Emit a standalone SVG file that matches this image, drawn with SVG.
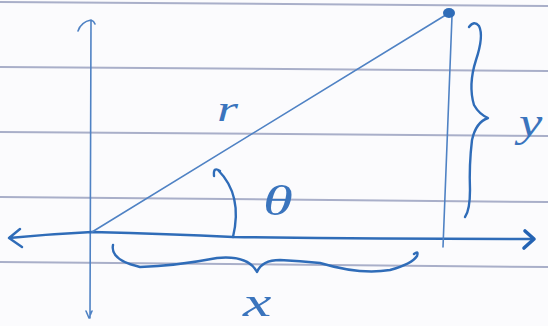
<svg xmlns="http://www.w3.org/2000/svg" width="548" height="326" viewBox="0 0 548 326">
<style>
.paper{stroke:#a9afc9;stroke-width:2;fill:none}
.thin{stroke:#4f82c4;stroke-width:1.6;fill:none;stroke-linecap:round;stroke-linejoin:round}
.ink{stroke:#2f6cb8;stroke-width:2.4;fill:none;stroke-linecap:round;stroke-linejoin:round}
.bold{stroke:#2463b3;stroke-width:3.6;fill:none;stroke-linecap:round;stroke-linejoin:round}
.lbl{font-family:"Liberation Serif",serif;font-style:italic;fill:#3a74bd}
</style>
<rect width="548" height="326" fill="#fbfbfd"/>
<g id="paper-lines">
<line class="paper" x1="0" y1="2" x2="548" y2="6"/>
<line class="paper" x1="0" y1="67" x2="548" y2="71"/>
<line class="paper" x1="0" y1="132" x2="548" y2="136"/>
<line class="paper" x1="0" y1="197" x2="548" y2="202"/>
<line class="paper" x1="0" y1="262" x2="548" y2="267"/>
</g>
<g id="connectors">
<path id="y-axis" class="thin" d="M91,21 L90,318 M78,31 Q81,22 91,20 Q94,21 95,24 M86,311 L89,318 L92,311"/>
<path id="x-axis" class="ink" d="M9,238 Q50,234 92,232 Q170,234 233,237 Q380,239 533,239 M20,229 L9,238 L22,247"/>
<path id="x-arrowhead" class="bold" d="M525,231 L534,239 L524,248"/>
<path id="hypotenuse" class="thin" d="M92,232 L449,13"/>
<path id="vertical-y" class="thin" d="M452,16 L443,247"/>
<path id="angle-arc" class="ink" d="M233,237 Q243,195 218,170 M214,176 Q213,166 220,171"/>
<path id="brace-y" class="ink" d="M469,27 Q474,20 479,26 Q484,36 476,60 Q468,85 474,105 Q479,114 488,118 Q476,122 472,140 Q469,165 470,190 Q470,210 465,217"/>
<path id="brace-x" class="ink" d="M113,245 Q110,260 140,267 Q175,266 217,258 Q248,255 257,272 Q262,260 280,260 Q300,261 320,263 Q360,275 390,270 Q412,264 417,256 Q419,250 414,254"/>
</g>
<g id="point"><ellipse cx="449" cy="13" rx="6" ry="5" fill="#2f6cb8"/></g>
<g id="label-r"><text class="lbl" font-size="36" transform="translate(217,121) scale(1.5,1)">r</text></g>
<g id="label-theta"><text class="lbl" font-size="42" transform="translate(263,215) scale(1.45,1)">θ</text></g>
<g id="label-y"><text class="lbl" font-size="42" transform="translate(519,136) scale(1.25,1)">y</text></g>
<g id="label-x"><text class="lbl" font-size="40" transform="translate(243,316) scale(1.6,1)">x</text></g>
</svg>
